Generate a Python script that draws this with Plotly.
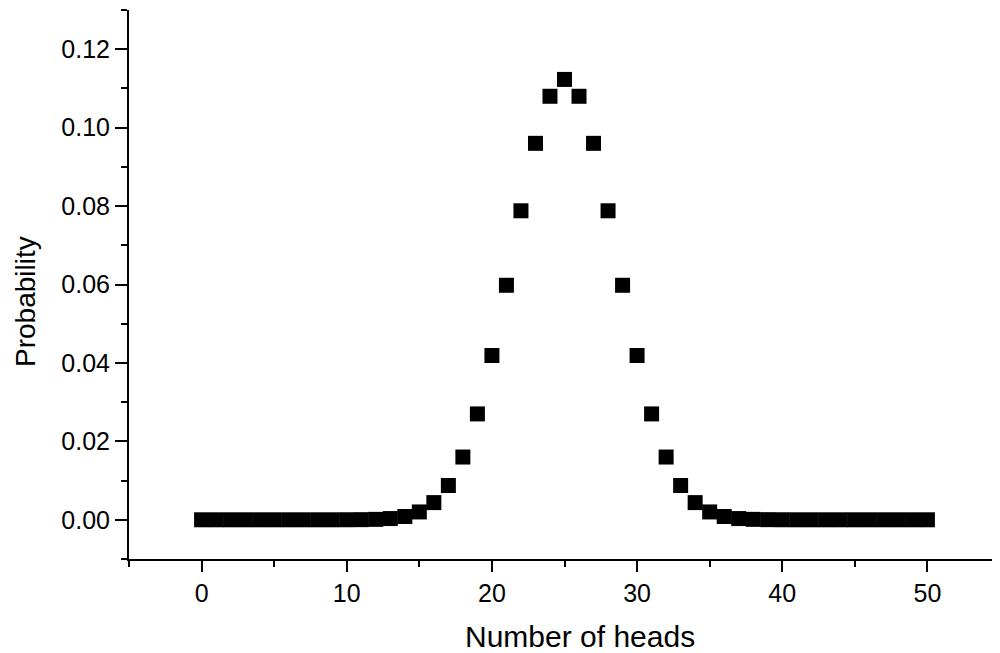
import plotly.graph_objects as go

heads = list(range(0, 51))
probability = [
    0.0, 0.0, 0.0, 0.0, 0.0, 0.0, 0.0, 0.0, 0.0, 0.0,
    0.0000094, 0.0000336, 0.000108, 0.000315, 0.000834,
    0.00200, 0.00438, 0.00874, 0.0160, 0.0270,
    0.0419, 0.0598, 0.0788, 0.0960, 0.1080,
    0.1123,
    0.1080, 0.0960, 0.0788, 0.0598, 0.0419,
    0.0270, 0.0160, 0.00874, 0.00438, 0.00200,
    0.000834, 0.000315, 0.000108, 0.0000336, 0.0000094,
    0.0, 0.0, 0.0, 0.0, 0.0, 0.0, 0.0, 0.0, 0.0, 0.0,
]

fig = go.Figure(go.Scatter(
    x=heads, y=probability, mode="markers",
    marker=dict(symbol="square", size=15, color="black", line=dict(width=0)),
))

font = "Liberation Sans, Arial, sans-serif"
axis_common = dict(
    showline=True, linecolor="black", linewidth=2,
    showgrid=False, zeroline=False,
    ticks="outside", tickwidth=2, tickcolor="black",
    tickfont=dict(family=font, size=25, color="black"),
)

fig.update_xaxes(
    range=[-5, 55], tickmode="linear", tick0=0, dtick=10, ticklen=11,
    minor=dict(ticks="outside", tick0=0, dtick=5, ticklen=6, tickwidth=2, tickcolor="black", showgrid=False),
    **axis_common,
)
fig.update_yaxes(
    range=[-0.01, 0.13], tickmode="linear", tick0=0, dtick=0.02, ticklen=12,
    tickformat=".2f", ticklabelstandoff=0,
    minor=dict(ticks="outside", tick0=0, dtick=0.01, ticklen=6, tickwidth=2, tickcolor="black", showgrid=False),
    **axis_common,
)

# page body has an 8px margin, so the figure is offset by (8, 8)
fig.update_layout(
    width=992, height=645,
    margin=dict(l=121, r=0, t=2, b=94),
    plot_bgcolor="white", paper_bgcolor="white",
    showlegend=False,
    annotations=[
        dict(text="Number of heads", xref="paper", yref="paper", x=(580 - 129) / 871, y=(559 - 636) / 549,
             xanchor="center", yanchor="middle", showarrow=False,
             font=dict(family=font, size=30, color="black")),
        dict(text="Probability", xref="paper", yref="paper", x=(25 - 129) / 871, y=(559 - 302) / 549,
             xanchor="center", yanchor="middle", textangle=-90, showarrow=False,
             font=dict(family=font, size=28, color="black")),
    ],
)

fig.write_html("out.html")
